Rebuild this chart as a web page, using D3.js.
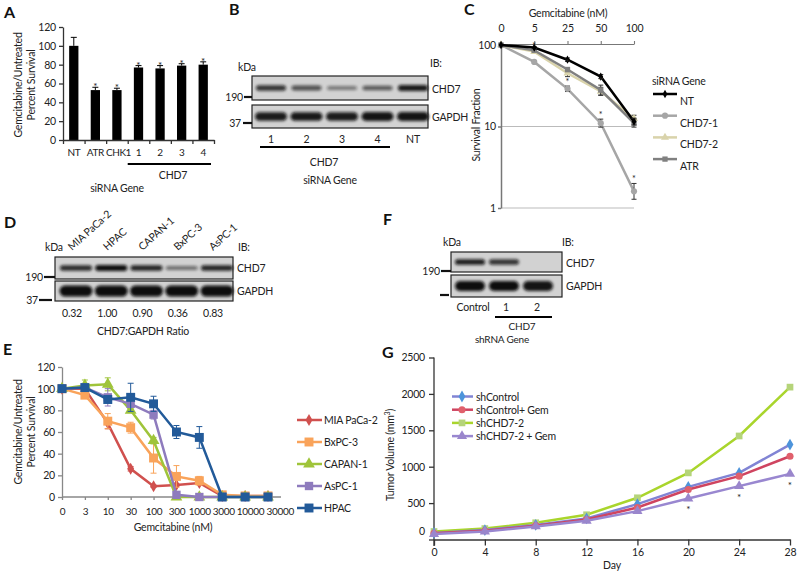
<!DOCTYPE html>
<html><head><meta charset="utf-8">
<script src="https://cdn.jsdelivr.net/npm/d3@7"></script>
<style>body{margin:0;background:#fff} text{font-family:Lato,'Open Sans',sans-serif;}</style>
</head><body><svg id="c" width="800" height="575"></svg>
<script>
// ---------------- DATA ----------------
// Panel A
const aCats = ["NT","ATR","CHK1","1","2","3","4"];
const aVals = [100,53,53,77,76,79,80];
const aErr  = [9,3,2,2,3,2,3];
const aStar = [false,true,true,true,true,true,true];
const aTicks = [0,20,40,60,80,100,120];
// Panel B blot
const bLanes = ["1","2","3","4","NT"];
const bCHD7  = [0.75,0.55,0.28,0.5,0.92];
const bGAPDH = [0.9,0.92,0.9,0.95,0.95];
// Panel C
const cCats = ["0","5","25","50","100"];
const cSeries = ["NT","CHD7-1","CHD7-2","ATR"];
const cNT    = [100,93,66,41,11.5];
const cCHD71 = [100,62,29,11,1.6];
const cCHD72 = [100,83,45,27,12.5];
const cATR   = [100,86,50,28,11];
const cErrNT    = [1,1.03,1.05,1.06,1.1];
const cErrCHD71 = [1,1.03,1.08,1.12,1.25];
const cErrCHD72 = [1,1.04,1.1,1.12,1.1];
const cErrATR   = [1,1.03,1.06,1.15,1.12];
const cTicks = [1,10,100];
// Panel D blot
const dLanes = ["MIA PaCa-2","HPAC","CAPAN-1","BxPC-3","AsPC-1"];
const dRatio = ["0.32","1.00","0.90","0.36","0.83"];
const dCHD7  = [0.8,1.0,0.85,0.35,0.85];
const dGAPDH = [1,1,1,1,1];
// Panel E
const eCats = ["0","3","10","30","100","300","1000","3000","10000","30000"];
const eSeries = ["MIA PaCa-2","BxPC-3","CAPAN-1","AsPC-1","HPAC"];
const eMIA   = [100,100,68,26,10,11,13,1,1,1];
const eBxPC  = [100,94,70,64,36,19,15,2,1,1];
const eCAPAN = [100,103,104,80,52,0,0,0,0,0];
const eAsPC  = [100,101,92,86,76,2,0,0,0,0];
const eHPAC  = [100,101,90,92,86,60,55,0,0,0];
const eErrMIA   = [0,0,5,2,1,1,1,0,0,0];
const eErrBxPC  = [0,3,7,5,14,10,4,1,1,1];
const eErrCAPAN = [0,5,6,2,3,1,0,0,0,0];
const eErrAsPC  = [0,2,8,3,4,2,0,0,0,0];
const eErrHPAC  = [0,2,3,13,7,6,10,0,0,0];
const eTicks = [0,20,40,60,80,100,120];
// Panel F blot
const fLanes = ["Control","1","2"];
const fCHD7  = [0.9,0.75,0.03];
const fGAPDH = [1,1,0.95];
// Panel G
const gDays = [0,4,8,12,16,20,24,28];
const gSeries = ["shControl","shControl+ Gem","shCHD7-2","shCHD7-2 + Gem"];
const gCtrl    = [90,130,200,290,486,723,915,1304];
const gCtrlGem = [85,120,190,275,440,687,870,1144];
const gCHD7    = [110,150,230,340,573,915,1422,2093];
const gCHD7Gem = [75,110,180,258,390,564,733,901];
const gStarDays = [20,24,28];
const gTicks = [0,500,1000,1500,2000,2500];

// ---------------- SETUP ----------------
const svg = d3.select("#c");
svg.append("rect").attr("width",800).attr("height",575).attr("fill","#fff");
const defs = svg.append("defs");
defs.append("filter").attr("id","blur").attr("x","-30%").attr("y","-150%").attr("width","160%").attr("height","400%")
  .append("feGaussianBlur").attr("stdDeviation",1.6);
const INK = "#222";
const FS = 10.5;
function txt(x,y,s,o={}){
  const t = svg.append("text").attr("x",x).attr("y",y).text(s)
    .attr("font-size",o.size||FS).attr("fill",o.fill||INK)
    .attr("text-anchor",o.anchor||"start").attr("letter-spacing",o.ls!=null?o.ls:-0.2);
  if(o.weight) t.attr("font-weight",o.weight);
  if(o.family) t.attr("font-family",o.family);
  if(o.rotate!=null) t.attr("transform",`rotate(${o.rotate},${x},${y})`);
  return t;
}
function letter(x,y,s){ txt(x,y,s,{size:16,weight:"bold",family:"'Liberation Sans',Arial,sans-serif",fill:"#111",ls:0}); }
function styleAxis(g,color,width,fs){
  g.select(".domain").attr("stroke",color).attr("stroke-width",width);
  g.selectAll(".tick line").attr("stroke",color).attr("stroke-width",width);
  g.selectAll(".tick text").attr("fill",INK).attr("font-size",fs||FS).attr("letter-spacing",-0.2).attr("font-family","Lato,'Open Sans',sans-serif");
}
// push horizontal tick labels apart so they never overlap
function deoverlap(g,gap){
  let prevRight=-1e9;
  g.selectAll(".tick").each(function(){
    const tr = this.getAttribute("transform");
    const tx = +/translate\(([-\d.]+)/.exec(tr)[1];
    const t = d3.select(this).select("text");
    const w = t.node().getComputedTextLength();
    let left = tx - w/2, shift = 0;
    if(left < prevRight+gap) shift = prevRight+gap-left;
    t.attr("x",shift);
    prevRight = tx+shift+w/2;
  });
}
function sym(type,size){ return d3.symbol().type(type).size(size)(); }

// ---------------- PANEL A ----------------
letter(4,18,"A");
{
  const x = d3.scaleBand().domain(aCats).range([63,214]);
  const y = d3.scaleLinear().domain([0,120]).range([140,27]);
  const bw = x.bandwidth()*0.43;
  const g = svg.append("g");
  g.selectAll("rect.bar").data(aCats).join("rect")
    .attr("x",d=>x(d)+x.bandwidth()/2-bw/2).attr("y",(d,i)=>y(aVals[i]))
    .attr("width",bw).attr("height",(d,i)=>y(0)-y(aVals[i])).attr("fill","#000");
  aCats.forEach((c,i)=>{
    const cx = x(c)+x.bandwidth()/2;
    g.append("line").attr("x1",cx).attr("x2",cx).attr("y1",y(aVals[i])).attr("y2",y(aVals[i]+aErr[i])).attr("stroke","#000").attr("stroke-width",1);
    g.append("line").attr("x1",cx-3).attr("x2",cx+3).attr("y1",y(aVals[i]+aErr[i])).attr("y2",y(aVals[i]+aErr[i])).attr("stroke","#000").attr("stroke-width",1);
    if(aStar[i]) txt(cx,y(aVals[i]+aErr[i])+3,"*",{size:10,anchor:"middle",ls:0});
  });
  const ya = svg.append("g").attr("transform","translate(63,0)").call(d3.axisLeft(y).tickValues(aTicks).tickSize(4).tickPadding(3).tickSizeOuter(0));
  styleAxis(ya,"#333",1.3);
  const idx = d3.scaleLinear().domain([0,aCats.length]).range(x.range());
  const xt = svg.append("g").attr("transform","translate(0,140)").call(d3.axisBottom(idx).tickValues(d3.range(aCats.length+1)).tickFormat("").tickSize(4).tickSizeOuter(0));
  styleAxis(xt,"#333",1.3);
  const xl = svg.append("g").attr("transform","translate(0,140)").call(d3.axisBottom(x).tickSize(0).tickPadding(9));
  xl.select(".domain").remove();
  styleAxis(xl,"#333",1,10);
  xl.selectAll(".tick text").attr("letter-spacing",-0.4);
  deoverlap(xl,2);
  svg.append("line").attr("x1",x("1")).attr("x2",x.range()[1]-3).attr("y1",164).attr("y2",164).attr("stroke","#000").attr("stroke-width",2);
  txt(173,179,"CHD7",{anchor:"middle"});
  txt(117,192,"siRNA Gene",{anchor:"middle"});
  txt(22,85,"Gemcitabine/Untreated",{anchor:"middle",rotate:-90});
  txt(35,85,"Percent Survival",{anchor:"middle",rotate:-90});
}

// ---------------- BLOT helper ----------------
function blot(o){
  const g = svg.append("g");
  [[o.y1,o.y1b,o.top,o.bw1,o.bh1],[o.y2,o.y2b,o.bot,o.bw2,o.bh2]].forEach(([t,b,vals,w,h])=>{
    g.append("rect").attr("x",o.x0).attr("y",t).attr("width",o.x1-o.x0).attr("height",b-t)
      .attr("fill","#d2d2d2").attr("stroke","#222").attr("stroke-width",1.2);
    const cy=(t+b)/2;
    o.lanes.forEach((lx,i)=>{
      const v = vals[i];
      if(v<=0.05) return;
      g.append("rect").attr("x",lx-w/2).attr("y",cy-h*(0.55+0.45*v)/2).attr("width",w).attr("height",h*(0.55+0.45*v))
        .attr("rx",h/2).attr("fill","#0a0a0a").attr("opacity",0.25+0.75*v).attr("filter","url(#blur)");
    });
  });
  return g;
}

// ---------------- PANEL B ----------------
letter(229,15,"B");
{
  const lx = d3.scalePoint().domain(bLanes).range([271,413]);
  const lanes = bLanes.map(d=>lx(d));
  blot({x0:252,x1:428,y1:76,y1b:100,y2:105,y2b:128,top:bCHD7,bot:bGAPDH,lanes,bw1:30,bh1:6,bw2:32,bh2:9});
  txt(238,71,"kDa");
  txt(430,67,"IB:");
  txt(243,101,"190",{anchor:"end"});
  svg.append("line").attr("x1",244).attr("x2",252).attr("y1",97).attr("y2",97).attr("stroke","#111").attr("stroke-width",2.2);
  txt(241,127,"37",{anchor:"end"});
  svg.append("line").attr("x1",243).attr("x2",252).attr("y1",123).attr("y2",123).attr("stroke","#111").attr("stroke-width",2.2);
  txt(432,93,"CHD7");
  txt(432,121,"GAPDH");
  bLanes.forEach(d=>txt(lx(d),143,d,{anchor:"middle"}));
  svg.append("line").attr("x1",260).attr("x2",390).attr("y1",147).attr("y2",147).attr("stroke","#000").attr("stroke-width",2);
  txt(324,166,"CHD7",{anchor:"middle"});
  txt(330,184,"siRNA Gene",{anchor:"middle"});
}

// ---------------- PANEL C ----------------
letter(464,15,"C");
{
  const x = d3.scalePoint().domain(cCats).range([501,634]);
  const y = d3.scaleLog().domain([1,100]).range([208,45]);
  svg.append("line").attr("x1",501).attr("x2",634).attr("y1",y(10)).attr("y2",y(10)).attr("stroke","#bbb").attr("stroke-width",1.2);
  svg.append("line").attr("x1",501).attr("x2",634).attr("y1",y(1)).attr("y2",y(1)).attr("stroke","#bbb").attr("stroke-width",1.2);
  const top = svg.append("g").attr("transform",`translate(0,${y(100)-1})`).call(d3.axisTop(x).tickSize(3).tickPadding(9).tickSizeOuter(0));
  styleAxis(top,"#777",1.1);
  const yl = svg.append("g").attr("transform","translate(501,0)").call(d3.axisLeft(y).tickValues(cTicks).tickFormat(d3.format("d")).tickSize(3).tickPadding(2).tickSizeOuter(0));
  styleAxis(yl,"#777",1.5);
  txt(568,17,"Gemcitabine (nM)",{anchor:"middle"});
  txt(480,125,"Survival Fraction",{anchor:"middle",rotate:-90});
  const series = [
    {name:"CHD7-1",v:cCHD71,e:cErrCHD71,c:"#a6a6a6",m:d3.symbolCircle,ms:30,w:2.5},
    {name:"CHD7-2",v:cCHD72,e:cErrCHD72,c:"#d9d3ab",m:d3.symbolTriangle,ms:28,w:2.5},
    {name:"ATR",v:cATR,e:cErrATR,c:"#808080",m:d3.symbolSquare,ms:28,w:2.5},
    {name:"NT",v:cNT,e:cErrNT,c:"#000",m:d3.symbolDiamond,ms:20,w:2.5}
  ];
  const line = d3.line().x((d,i)=>x(cCats[i])).y(d=>y(d));
  series.forEach(s=>{
    svg.append("path").attr("d",line(s.v)).attr("fill","none").attr("stroke",s.c).attr("stroke-width",s.w);
    s.v.forEach((v,i)=>{
      const cx=x(cCats[i]);
      if(s.e[i]>1){
        svg.append("line").attr("x1",cx).attr("x2",cx).attr("y1",y(v/s.e[i])).attr("y2",y(v*s.e[i])).attr("stroke","#333").attr("stroke-width",1);
        [v/s.e[i],v*s.e[i]].forEach(b=>svg.append("line").attr("x1",cx-2.5).attr("x2",cx+2.5).attr("y1",y(b)).attr("y2",y(b)).attr("stroke","#333").attr("stroke-width",1));
      }
      svg.append("path").attr("d",sym(s.m,s.ms)).attr("transform",`translate(${cx},${y(v)})`).attr("fill",s.c);
    });
  });
  [["CHD7-1",2],["CHD7-1",3],["CHD7-1",4],["ATR",2],["ATR",3],["CHD7-2",1]].forEach(([n,i])=>{
    const s=series.find(q=>q.name===n);
    txt(x(cCats[i]),y(s.v[i]*s.e[i])-1,"*",{anchor:"middle",size:9,ls:0});
  });
  txt(652,85,"siRNA Gene");
  const leg = [
    {name:"NT",c:"#000",m:d3.symbolDiamond,ms:20},
    {name:"CHD7-1",c:"#a6a6a6",m:d3.symbolCircle,ms:30},
    {name:"CHD7-2",c:"#d9d3ab",m:d3.symbolTriangle,ms:28},
    {name:"ATR",c:"#808080",m:d3.symbolSquare,ms:28}
  ];
  leg.forEach((l,i)=>{
    const ly = 94+i*21.7;
    svg.append("line").attr("x1",653).attr("x2",677).attr("y1",ly).attr("y2",ly).attr("stroke",l.c).attr("stroke-width",2.5);
    svg.append("path").attr("d",sym(l.m,l.ms)).attr("transform",`translate(665,${ly})`).attr("fill",l.c);
    txt(680,ly+11,l.name);
  });
}

// ---------------- PANEL D ----------------
letter(4,228,"D");
{
  const lx = d3.scalePoint().domain(dLanes).range([76,217]);
  const lanes = dLanes.map(d=>lx(d));
  blot({x0:55,x1:233,y1:257,y1b:279,y2:281,y2b:301,top:dCHD7,bot:dGAPDH,lanes,bw1:32,bh1:6,bw2:33,bh2:11});
  txt(45,251,"kDa");
  txt(238,251,"IB:");
  txt(43,281,"190",{anchor:"end"});
  svg.append("line").attr("x1",44).attr("x2",55).attr("y1",277).attr("y2",277).attr("stroke","#111").attr("stroke-width",2.2);
  txt(38,304,"37",{anchor:"end"});
  svg.append("line").attr("x1",39).attr("x2",52).attr("y1",300).attr("y2",300).attr("stroke","#111").attr("stroke-width",2.2);
  txt(237,272,"CHD7");
  txt(237,295,"GAPDH");
  dLanes.forEach(d=>txt(lx(d)-4,251,d,{rotate:-42}));
  dLanes.forEach((d,i)=>txt(lx(d)-4,317,dRatio[i],{anchor:"middle"}));
  txt(143,335,"CHD7:GAPDH Ratio",{anchor:"middle"});
}

// ---------------- PANEL F ----------------
letter(383,225,"F");
{
  const lx = d3.scalePoint().domain(fLanes).range([470,538]);
  const lanes = fLanes.map(d=>lx(d));
  blot({x0:451,x1:562,y1:252,y1b:272,y2:275,y2b:297,top:fCHD7,bot:fGAPDH,lanes,bw1:30,bh1:6,bw2:30,bh2:10});
  txt(443,246,"kDa");
  txt(562,246,"IB:");
  txt(440,275,"190",{anchor:"end"});
  svg.append("line").attr("x1",441).attr("x2",451).attr("y1",271).attr("y2",271).attr("stroke","#111").attr("stroke-width",2.2);
  svg.append("line").attr("x1",440).attr("x2",449).attr("y1",295).attr("y2",295).attr("stroke","#111").attr("stroke-width",2.2);
  txt(566,267,"CHD7");
  txt(566,290,"GAPDH");
  txt(473,311,"Control",{anchor:"middle"});
  txt(506,311,"1",{anchor:"middle"});
  txt(537,311,"2",{anchor:"middle"});
  svg.append("line").attr("x1",495).attr("x2",552).attr("y1",317).attr("y2",317).attr("stroke","#000").attr("stroke-width",2);
  txt(522,330,"CHD7",{anchor:"middle",size:10});
  txt(502,343,"shRNA Gene",{anchor:"middle",size:10});
}

// ---------------- PANEL E ----------------
letter(3,355,"E");
{
  const x = d3.scalePoint().domain(eCats).range([62,268]);
  const y = d3.scaleLinear().domain([0,120]).range([497,367]);
  const ya = svg.append("g").attr("transform","translate(62,0)").call(d3.axisLeft(y).tickValues(eTicks).tickSize(4).tickPadding(3).tickSizeOuter(0));
  styleAxis(ya,"#888",1.3);
  const xa = svg.append("g").attr("transform","translate(0,497)").call(d3.axisBottom(x).tickSize(3).tickPadding(8).tickSizeOuter(0));
  styleAxis(xa,"#888",1.3,10);
  xa.selectAll(".tick text").attr("letter-spacing",-0.3);
  xa.select(".domain").attr("d","M62,0H281");
  deoverlap(xa,2);
  txt(173,531,"Gemcitabine (nM)",{anchor:"middle"});
  txt(22,432,"Gemcitabine/Untreated",{anchor:"middle",rotate:-90});
  txt(35,432,"Percent Survival",{anchor:"middle",rotate:-90});
  const series = [
    {name:"MIA PaCa-2",v:eMIA,e:eErrMIA,c:"#d0504e",m:d3.symbolDiamond,ms:42},
    {name:"BxPC-3",v:eBxPC,e:eErrBxPC,c:"#f9a35a",m:d3.symbolSquare,ms:80},
    {name:"CAPAN-1",v:eCAPAN,e:eErrCAPAN,c:"#9fc43a",m:d3.symbolTriangle,ms:60},
    {name:"AsPC-1",v:eAsPC,e:eErrAsPC,c:"#8e7bbd",m:d3.symbolSquare,ms:70},
    {name:"HPAC",v:eHPAC,e:eErrHPAC,c:"#225a99",m:d3.symbolSquare,ms:80}
  ];
  const line = d3.line().x((d,i)=>x(eCats[i])).y(d=>y(d));
  series.forEach(s=>{
    s.v.forEach((v,i)=>{
      if(!s.e[i]) return;
      const cx=x(eCats[i]);
      svg.append("line").attr("x1",cx).attr("x2",cx).attr("y1",y(Math.max(0,v-s.e[i]))).attr("y2",y(v+s.e[i])).attr("stroke",s.c).attr("stroke-width",1);
      [Math.max(0,v-s.e[i]),v+s.e[i]].forEach(b=>svg.append("line").attr("x1",cx-3).attr("x2",cx+3).attr("y1",y(b)).attr("y2",y(b)).attr("stroke",s.c).attr("stroke-width",1));
    });
    svg.append("path").attr("d",line(s.v)).attr("fill","none").attr("stroke",s.c).attr("stroke-width",2.5);
    s.v.forEach((v,i)=>svg.append("path").attr("d",sym(s.m,s.ms)).attr("transform",`translate(${x(eCats[i])},${y(v)})`).attr("fill",s.c));
  });
  series.forEach((s,i)=>{
    const ly = 420+i*22;
    svg.append("line").attr("x1",297).attr("x2",322).attr("y1",ly).attr("y2",ly).attr("stroke",s.c).attr("stroke-width",2.5);
    svg.append("path").attr("d",sym(s.m,s.ms)).attr("transform",`translate(309,${ly})`).attr("fill",s.c);
    txt(324,ly+4,s.name);
  });
}

// ---------------- PANEL G ----------------
letter(382,358,"G");
{
  const x = d3.scaleLinear().domain([0,28]).range([434,790]);
  const y = d3.scaleLinear().domain([0,2500]).range([539.5,357.5]);
  const ya = svg.append("g").attr("transform","translate(434,0)").call(d3.axisLeft(y).tickValues(gTicks).tickFormat(d3.format("d")).tickSize(5).tickPadding(4).tickSizeOuter(0));
  styleAxis(ya,"#333",1.3);
  ya.select(".domain").attr("d","M0,357.5V546");
  ya.selectAll(".tick").filter(d=>d===0).select("text").attr("dy","-0.45em");
  const xa = svg.append("g").attr("transform","translate(0,539.5)").call(d3.axisBottom(x).tickValues(gDays).tickSize(6).tickPadding(3).tickSizeOuter(0));
  styleAxis(xa,"#333",1.3);
  txt(612,569,"Day",{anchor:"middle"});
  const yl = txt(394,455,"",{anchor:"middle",rotate:-90});
  yl.append("tspan").text("Tumor Volume (mm");
  yl.append("tspan").text("3").attr("font-size",7).attr("dy",-4);
  yl.append("tspan").text(")").attr("dy",4);
  const series = [
    {name:gSeries[2],v:gCHD7,c:"#a9d52c",mc:"#b5d47a",m:d3.symbolSquare,ms:45},
    {name:gSeries[0],v:gCtrl,c:"#8184d4",mc:"#4d94db",m:d3.symbolDiamond,ms:40},
    {name:gSeries[1],v:gCtrlGem,c:"#cf4460",mc:"#e0606c",m:d3.symbolCircle,ms:40},
    {name:gSeries[3],v:gCHD7Gem,c:"#9987d0",mc:"#9a86cc",m:d3.symbolTriangle,ms:45}
  ];
  const line = d3.line().x((d,i)=>x(gDays[i])).y(d=>y(d));
  series.forEach(s=>{
    svg.append("path").attr("d",line(s.v)).attr("fill","none").attr("stroke",s.c).attr("stroke-width",2.5);
    s.v.forEach((v,i)=>svg.append("path").attr("d",sym(s.m,s.ms)).attr("transform",`translate(${x(gDays[i])},${y(v)})`).attr("fill",s.mc));
  });
  gStarDays.forEach(dd=>{
    const i = gDays.indexOf(dd);
    txt(x(dd),y(gCHD7Gem[i])+15,"*",{anchor:"middle",size:10,ls:0});
  });
  const legOrder=[1,2,0,3];
  legOrder.forEach((k,i)=>{
    const s=series[k];
    const ly=396.5+i*13.2;
    svg.append("line").attr("x1",452).attr("x2",473).attr("y1",ly).attr("y2",ly).attr("stroke",s.c).attr("stroke-width",2.5);
    svg.append("path").attr("d",sym(s.m,s.ms)).attr("transform",`translate(462,${ly})`).attr("fill",s.mc);
    txt(476,ly+4,s.name);
  });
}
</script></body></html>
